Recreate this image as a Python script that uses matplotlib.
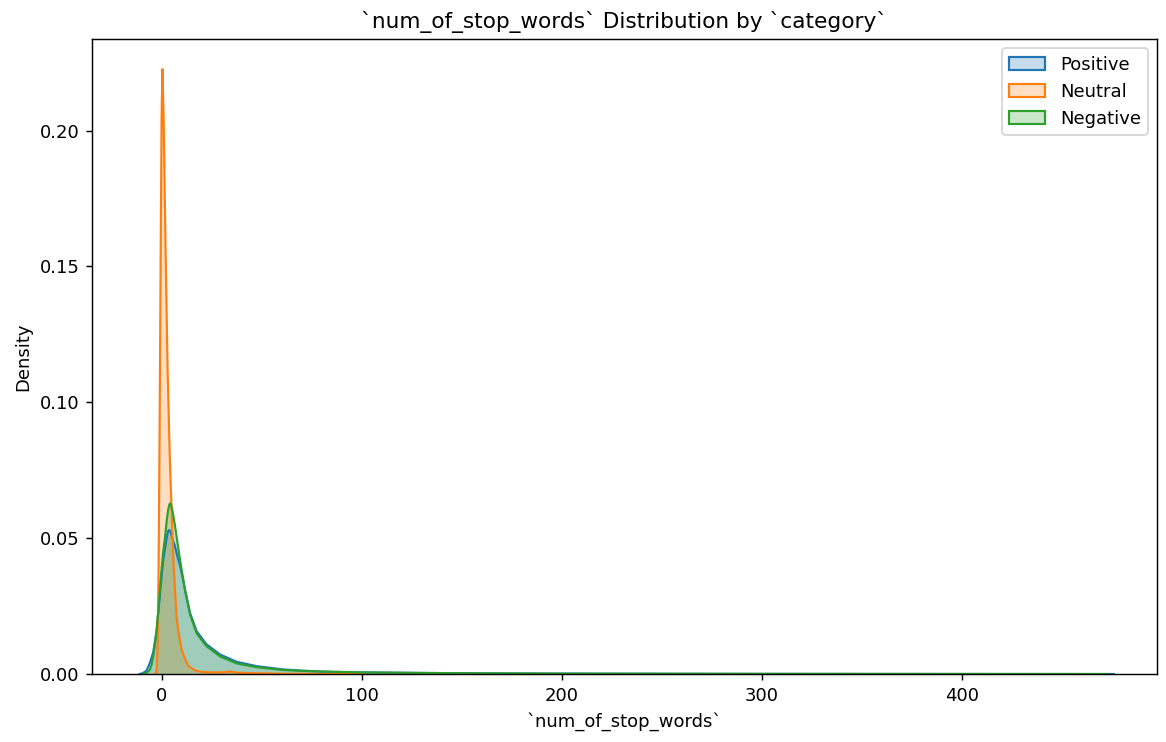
import matplotlib
matplotlib.use("Agg")
import matplotlib.pyplot as plt
from matplotlib.patches import Patch

# density curves (x = num_of_stop_words, y = density)
pos_x = [-11, -9.5, -7.6, -5.9, -4.2, -2.5, -0.85, 0, 0.8, 1.65, 2.5, 3.2, 3.8, 4.4,
         5, 5.8, 6.7, 8, 9.2, 10.5, 11.7, 14.2, 17.5, 20, 22.5, 29.2, 37.5, 47.5,
         60.7, 69, 80, 100, 130, 160, 200, 250, 300, 350, 400, 450, 476]
pos_y = [0, 0.0003, 0.0012, 0.004, 0.008, 0.016, 0.029, 0.036, 0.042, 0.046, 0.050,
         0.0525, 0.053, 0.0525, 0.051, 0.049, 0.047, 0.043, 0.040, 0.0355, 0.031,
         0.0225, 0.0158, 0.0133, 0.0109, 0.0072, 0.0045, 0.0029, 0.0017, 0.0013,
         0.0009, 0.0006, 0.0004, 0.00025, 0.00015, 0.0001, 0.00006, 0.00004,
         0.00002, 0.00001, 0]

neu_x = [-3.5, -2.5, -2.0, -1.5, -1.0, -0.5, 0.0, 0.4, 1.0, 2.0, 3.0, 4.0, 5.0, 5.8,
         6.7, 7.5, 8.3, 10, 11.7, 13.3, 15.8, 17.5, 20, 25, 30, 34, 38, 45, 60, 80, 100]
neu_y = [0, 0.001, 0.01, 0.04, 0.09, 0.15, 0.205, 0.2226, 0.205, 0.155, 0.112, 0.082,
         0.060, 0.043, 0.031, 0.021, 0.016, 0.009, 0.0055, 0.003, 0.0018, 0.0011,
         0.0008, 0.0006, 0.0006, 0.0009, 0.0005, 0.0003, 0.0001, 0.00005, 0]

neg_x = [-9, -7.5, -5.9, -5, -4.2, -3.3, -2.5, -1.7, -0.85, 0, 0.8, 1.65, 2.5, 3.3,
         3.8, 4.2, 4.7, 5.2, 5.8, 6.7, 8, 9.2, 10.5, 11.7, 14.2, 17.5, 20, 22.5,
         29.2, 37.5, 47.5, 60.7, 69, 80, 100, 130, 160, 200, 250, 300, 350, 400,
         450, 473]
neg_y = [0, 0.0005, 0.0015, 0.0035, 0.0064, 0.011, 0.016, 0.023, 0.031, 0.039, 0.045,
         0.050, 0.056, 0.0605, 0.0622, 0.0628, 0.0624, 0.0608, 0.0585, 0.0545,
         0.048, 0.042, 0.0362, 0.031, 0.022, 0.015, 0.0125, 0.0102, 0.0065, 0.0039,
         0.0025, 0.0015, 0.0012, 0.0009, 0.0006, 0.0004, 0.00025, 0.00015, 0.0001,
         0.00006, 0.00004, 0.00002, 0.00001, 0]

categories = ["Positive", "Neutral", "Negative"]
colors = ["#1f77b4", "#ff7f0e", "#2ca02c"]
series = [(pos_x, pos_y), (neu_x, neu_y), (neg_x, neg_y)]

dpi = 130
fig = plt.figure(figsize=(1166 / dpi, 742 / dpi), dpi=dpi)
ax = fig.add_axes([0.0789, 0.0916, 0.9134, 0.8554])

for (xs, ys), c in zip(series, colors):
    ax.fill_between(xs, ys, 0, facecolor=c, alpha=0.25, linewidth=0)
    ax.plot(xs, ys, color=c, linewidth=1.2)

ax.set_xlim(-34.8, 497.6)
ax.set_ylim(0, 0.2336)
ax.set_yticks([0.0, 0.05, 0.10, 0.15, 0.20])
ax.set_yticklabels(["0.00", "0.05", "0.10", "0.15", "0.20"])

ax.set_title("`num_of_stop_words` Distribution by `category`", fontsize=12)
ax.set_xlabel("`num_of_stop_words`")
ax.set_ylabel("Density")

handles = [Patch(facecolor=matplotlib.colors.to_rgba(c, 0.25), edgecolor=c, linewidth=1.2)
           for c in colors]
ax.legend(handles, categories, loc="upper right")

fig.savefig("out.png", dpi=dpi)
